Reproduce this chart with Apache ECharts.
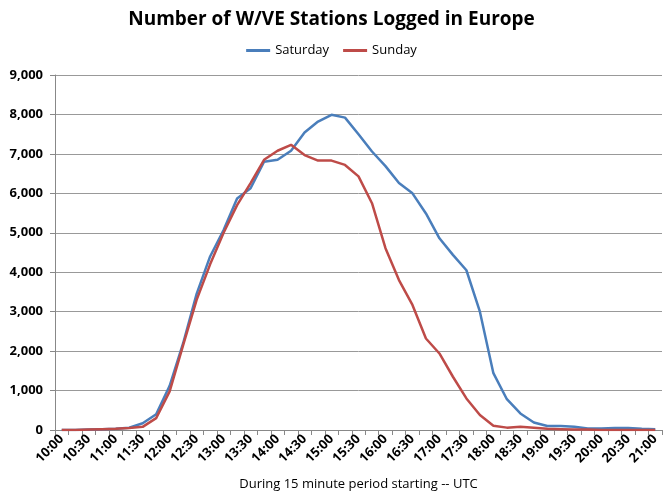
<!DOCTYPE html>
<html><head><meta charset="utf-8">
<script src="https://cdn.jsdelivr.net/npm/echarts@6/dist/echarts.min.js"></script>
<style>html,body{margin:0;padding:0;background:#fff}#c{width:663px;height:496px}</style>
</head><body><div id="c"></div>
<script>
const categories = ["10:00","10:15","10:30","10:45","11:00","11:15","11:30","11:45","12:00","12:15","12:30","12:45","13:00","13:15","13:30","13:45","14:00","14:15","14:30","14:45","15:00","15:15","15:30","15:45","16:00","16:15","16:30","16:45","17:00","17:15","17:30","17:45","18:00","18:15","18:30","18:45","19:00","19:15","19:30","19:45","20:00","20:15","20:30","20:45","21:00"];
const saturday = [0,0,10,20,30,60,170,400,1120,2200,3450,4400,5070,5870,6130,6800,6850,7080,7540,7820,7990,7920,7500,7060,6690,6260,6000,5490,4860,4440,4050,3000,1440,780,420,190,100,100,80,40,40,50,50,30,20];
const sunday = [0,0,10,20,30,50,80,300,980,2150,3300,4200,5000,5700,6260,6850,7080,7230,6970,6830,6830,6720,6430,5750,4610,3800,3170,2320,1940,1350,800,380,110,60,85,60,30,20,10,10,0,0,0,0,0];
const yTicks = [0,1000,2000,3000,4000,5000,6000,7000,8000,9000];
const chart = echarts.init(document.getElementById('c'));
const ff = "'Open Sans', 'Liberation Sans', sans-serif";
chart.setOption({
  animation:false,
  textStyle:{fontFamily:ff},
  title:{text:'Number of W/VE Stations Logged in Europe',left:'center',top:5,textStyle:{fontSize:19,fontWeight:'bold',color:'#000',fontFamily:ff}},
  legend:{top:39,left:'center',itemWidth:24,itemHeight:3,itemGap:14,icon:'rect',textStyle:{fontSize:13,color:'#000',fontFamily:ff},data:['Saturday','Sunday']},
  grid:{left:55,right:1,top:75,bottom:66,containLabel:false,outerBoundsMode:'none'},
  xAxis:{type:'category',data:categories,boundaryGap:true,
    name:'During 15 minute period starting -- UTC',nameLocation:'middle',nameGap:48,
    nameTextStyle:{fontSize:13,color:'#000',fontFamily:ff},
    axisLine:{lineStyle:{color:'#888',width:1}},
    axisTick:{show:true,interval:0,length:5,lineStyle:{color:'#888'}},
    axisLabel:{interval:1,rotate:45,fontSize:13,fontWeight:'bold',color:'#000',margin:7,fontFamily:ff},
    splitLine:{show:false}},
  yAxis:{type:'value',min:0,max:9000,interval:1000,
    axisLine:{show:true,lineStyle:{color:'#888'}},
    axisTick:{show:true,length:5,lineStyle:{color:'#888'}},
    axisLabel:{fontSize:13,fontWeight:'bold',color:'#000',margin:12,fontFamily:ff,
      formatter:v=>yTicks.includes(v)?v.toLocaleString('en-US'):''},
    splitLine:{lineStyle:{color:'#999',width:1}}},
  series:[
    {name:'Saturday',type:'line',data:saturday,symbol:'none',lineStyle:{color:'#4A7EBB',width:2.5},itemStyle:{color:'#4A7EBB'}},
    {name:'Sunday',type:'line',data:sunday,symbol:'none',lineStyle:{color:'#BE4B48',width:2.5},itemStyle:{color:'#BE4B48'}}
  ]
});
</script></body></html>
